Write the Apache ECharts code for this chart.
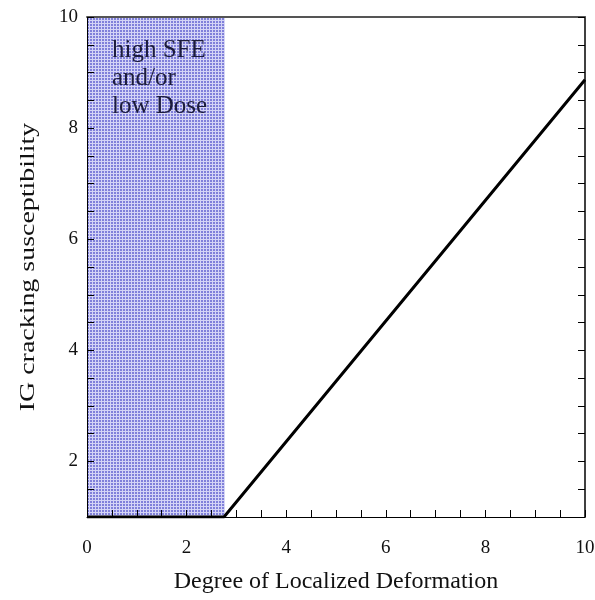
<!DOCTYPE html>
<html>
<head>
<meta charset="utf-8">
<script src="https://cdn.jsdelivr.net/npm/echarts@6/dist/echarts.min.js"></script>
<style>html,body{margin:0;padding:0;background:#fff}#c{width:595px;height:600px}</style>
</head>
<body>
<div id="c"></div>
<script>
var lineX = [0, 2.75, 10];
var lineY = [1, 1, 8.87];
var regionX = [0, 2.77];
var regionText = 'high SFE\nand/or\nlow Dose';
var xTitle = 'Degree of Localized Deformation';
var yTitle = 'IG cracking susceptibility';
var xRange = [0, 10];
var yRange = [1, 10];
var labelStep = 2;

var pat = document.createElement('canvas');
pat.width = 3; pat.height = 3;
var pc = pat.getContext('2d');
pc.fillStyle = '#d4d4f6'; pc.fillRect(0,0,3,3);
pc.fillStyle = '#8080da'; pc.fillRect(0,0,2,2);

var font = '"Liberation Serif", "DejaVu Serif", serif';
function fmt(v){ return (Math.abs(v % labelStep) < 1e-9) ? String(v) : ''; }

var chart = echarts.init(document.getElementById('c'), null, {renderer:'canvas'});
chart.setOption({
  animation: false,
  grid: {left: 87, right: 10, top: 17, bottom: 83, containLabel: false, outerBoundsMode: 'none'},
  graphic: [{
    type: 'text', x: 28, y: 267, rotation: Math.PI / 2, scaleX: 1.33, scaleY: 1,
    style: {text: yTitle, font: '21px ' + font, fill: '#111', align: 'center', verticalAlign: 'middle'}
  }],
  xAxis: [{
    type: 'value', min: xRange[0], max: xRange[1], interval: 0.5, z: 10,
    name: xTitle, nameLocation: 'middle', nameGap: 53,
    nameTextStyle: {fontFamily: font, fontSize: 24, color: '#111'},
    axisLine: {onZero: false, lineStyle: {color: '#000', width: 1}},
    axisTick: {inside: true, length: 7, lineStyle: {color: '#000'}},
    axisLabel: {formatter: fmt, fontFamily: font, fontSize: 19, color: '#111', margin: 22, showMinLabel: true, showMaxLabel: true},
    splitLine: {show: false}
  }, {
    type: 'value', position: 'top', min: xRange[0], max: xRange[1], z: 10,
    axisLine: {show: true, onZero: false, lineStyle: {color: '#555', width: 2}},
    axisTick: {show: false}, axisLabel: {show: false}, splitLine: {show: false}
  }],
  yAxis: [{
    type: 'value', min: yRange[0], max: yRange[1], interval: 0.5, z: 10,
    axisLine: {show: true, onZero: false, lineStyle: {color: '#000', width: 1}},
    axisTick: {inside: true, length: 7, lineStyle: {color: '#000'}},
    axisLabel: {formatter: fmt, fontFamily: font, fontSize: 19, color: '#111', margin: 9, showMinLabel: true, showMaxLabel: true},
    splitLine: {show: false}
  }, {
    type: 'value', position: 'right', min: yRange[0], max: yRange[1], interval: 0.5, z: 10,
    axisLine: {show: true, onZero: false, lineStyle: {color: '#000', width: 1.5}},
    axisTick: {inside: true, length: 7, lineStyle: {color: '#000'}},
    axisLabel: {show: false}, splitLine: {show: false}
  }],
  series: [{
    type: 'line',
    data: lineX.map(function(x,i){return [x, lineY[i]];}),
    symbol: 'none',
    lineStyle: {color: '#000', width: 3},
    z: 12,
    markArea: {
      silent: true,
      z: 1,
      itemStyle: {color: {image: pat, repeat: 'repeat'}},
      label: {show: true, position: [25, 19], formatter: regionText, fontFamily: font, fontSize: 25, lineHeight: 28, color: '#1c1c3c', align: 'left', verticalAlign: 'top'},
      data: [[{xAxis: regionX[0], yAxis: yRange[1]}, {xAxis: regionX[1], yAxis: yRange[0]}]]
    }
  }]
});
</script>
</body>
</html>
